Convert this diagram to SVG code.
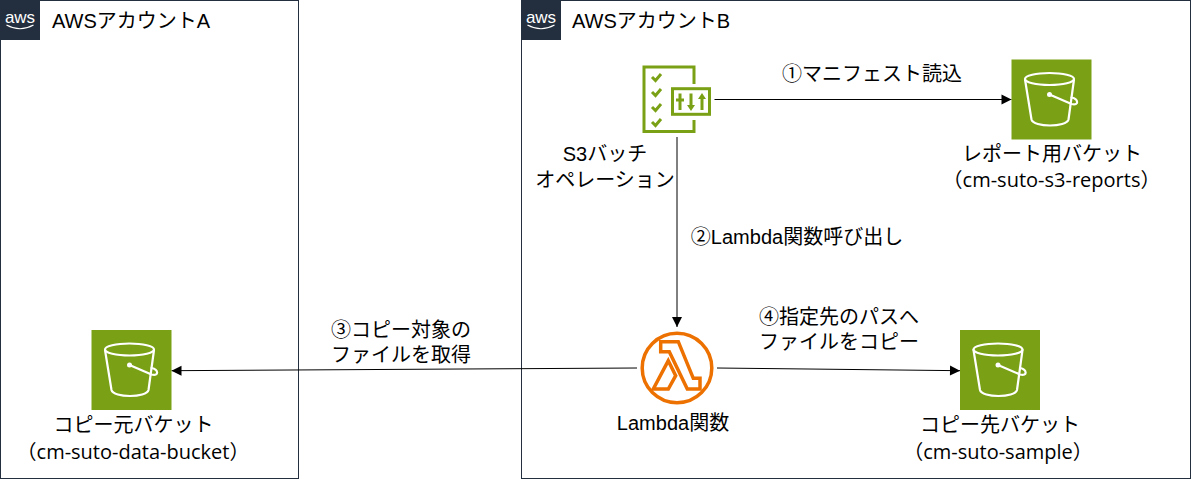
<svg xmlns="http://www.w3.org/2000/svg" width="1191" height="479" viewBox="0 0 1191 479">
<style>
text{font-family:"Liberation Sans","Noto Sans CJK JP",sans-serif;fill:#000;font-size:20px}
text.os{font-family:"Open Sans","Noto Sans CJK JP",sans-serif}
.m{text-anchor:middle}
.frame{fill:#fff;stroke:#232f3e;stroke-width:1}
.logo{fill:#232f3e}
text.logot{fill:#fff;font-size:17px;text-anchor:middle}
.smile{fill:none;stroke:#fff;stroke-width:1.2}
.bk{fill:#7aa116}
.bl{fill:none;stroke:#fff;stroke-width:2.200;stroke-linejoin:round;stroke-linecap:round}
.g{fill:none;stroke:#7aa116;stroke-width:3}
.o{fill:none;stroke:#ed7100;stroke-width:3.500}
.c{fill:none;stroke:#000;stroke-width:1;marker-end:url(#a)}
</style>
<defs>
<marker id="a" markerUnits="userSpaceOnUse" markerWidth="12" markerHeight="12" refX="10" refY="5" orient="auto" overflow="visible"><path d="M0 0L10 5L0 10Z" fill="#000"/></marker>
<g id="bucket">
<rect width="80" height="80" class="bk"/>
<ellipse cx="38" cy="19.500" rx="24.500" ry="6" class="bl"/>
<path d="M13.500 20L20 60C22 68 55 68 57 60L62.500 20" class="bl"/>
<path d="M38 35L60 44.500C68 46.500 67 39.500 60 38" class="bl"/>
<circle cx="38" cy="35" r="2.500" fill="#fff"/>
</g>
<g id="aws">
<rect width="40" height="40" class="logo"/>
<text x="20" y="22.500" class="logot">aws</text>
<path d="M6.500 25Q20 32.500 33.500 25" class="smile"/>
</g>
</defs>
<g id="account-a"><rect class="frame" x="0.500" y="0.500" width="298" height="478"/><use href="#aws"/><text x="52" y="28">AWSアカウントA</text></g>
<g id="account-b"><rect class="frame" x="521.500" y="0.500" width="669" height="478"/><use href="#aws" x="521"/><text x="572" y="28">AWSアカウントB</text></g>
<g id="connectors">
<path class="c" d="M714.500 99.500H1011.500"/>
<path class="c" d="M677 137V327"/>
<path class="c" d="M637 368L171.500 370.700"/>
<path class="c" d="M717 368L960 370.700"/>
</g>
<g id="s3-batch">
<path class="g" d="M694 84V67H644V131.500H694V120"/>
<rect class="g" x="672.500" y="88.700" width="37" height="25.600"/>
<path d="M680 93.500V110M676 100H684M691 93.500V106M702 98V110" fill="none" stroke="#7aa116" stroke-width="3"/>
<path d="M687 105H695L691 111ZM698 99H706L702 93Z" fill="#7aa116"/>
<path d="M652 77L655.500 80.500L661 74M652 92L655.500 95.500L661 89M652 107L655.500 110.500L661 104M652 122L655.500 125.500L661 119" fill="none" stroke="#7aa116" stroke-width="3"/>
<text class="m" x="605" y="161">S3バッチ</text><text class="m" x="605" y="187">オペレーション</text>
</g>
<g id="reports-bucket"><use href="#bucket" x="1011.500" y="59.500"/><text class="m" x="1052" y="161">レポート用バケット</text><text class="m os" x="1051.500" y="187">（cm-suto-s3-reports）</text></g>
<g id="lambda">
<circle cx="677" cy="368" r="34.800" class="o"/>
<path class="o" d="M660.700 341.700H678.300L693.300 378.300H700V389H687.300L669.300 351.700H660.700ZM668.300 360.700L675.700 375.700L668.300 389H653.300Z"/>
<text class="m" x="673" y="430">Lambda関数</text>
</g>
<g id="source-bucket"><use href="#bucket" x="91.500" y="330"/><text class="m" x="133.500" y="432">コピー元バケット</text><text class="m os" x="133" y="459">（cm-suto-data-bucket）</text></g>
<g id="dest-bucket"><use href="#bucket" x="960" y="330"/><text class="m" x="1000" y="432">コピー先バケット</text><text class="m os" x="998" y="459">（cm-suto-sample）</text></g>
<g id="labels">
<text class="m" x="872" y="81">①マニフェスト読込</text>
<text class="m" x="797" y="244">②Lambda関数呼び出し</text>
<text class="m" x="401" y="337">③コピー対象の</text><text class="m" x="401" y="362">ファイルを取得</text>
<text class="m" x="839" y="324">④指定先のパスへ</text><text class="m" x="839" y="349">ファイルをコピー</text>
</g>
</svg>
